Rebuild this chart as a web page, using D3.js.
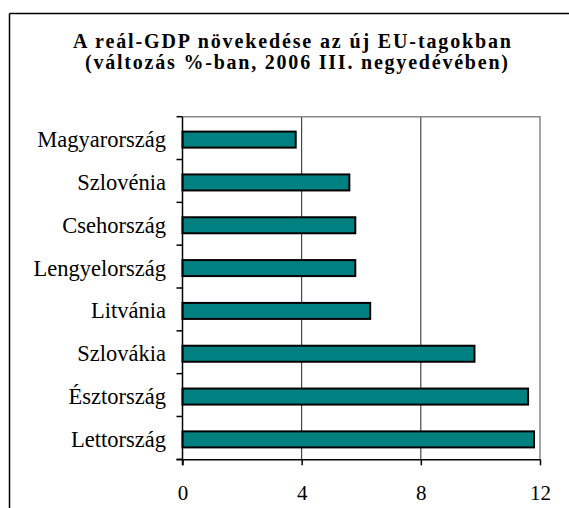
<!DOCTYPE html>
<html>
<head>
<meta charset="utf-8">
<script src="https://cdn.jsdelivr.net/npm/d3@7"></script>
<style>
  html, body { margin: 0; padding: 0; background: #fff; }
  svg { display: block; }
</style>
</head>
<body>
<svg id="chart" width="569" height="508"></svg>
<script>
const titleLines = ["A reál-GDP növekedése az új EU-tagokban", "(változás %-ban, 2006 III. negyedévében)"];
const categories = ["Magyarország", "Szlovénia", "Csehország", "Lengyelország", "Litvánia", "Szlovákia", "Észtország", "Lettország"];
const values = [3.8, 5.6, 5.8, 5.8, 6.3, 9.8, 11.6, 11.8];
const xTicks = [0, 4, 8, 12];

(function () {
const svg = d3.select("#chart");
const serif = "'Liberation Serif', 'Times New Roman', serif";

// outer frame (only left/top visible in picture)
svg.append("line").attr("x1", 9.5).attr("y1", 13.5).attr("x2", 569).attr("y2", 13.5)
  .attr("stroke", "#000").attr("stroke-width", 1.5);
svg.append("line").attr("x1", 9.5).attr("y1", 13.5).attr("x2", 9.5).attr("y2", 508)
  .attr("stroke", "#000").attr("stroke-width", 1.5);

// title
const tw = [438, 423];
const tx = [292, 296.5];
const ty = [48, 69];
titleLines.forEach((t, i) => {
  svg.append("text")
    .attr("x", tx[i] - tw[i] / 2).attr("y", ty[i])
    .attr("textLength", tw[i]).attr("lengthAdjust", "spacing")
    .attr("font-family", serif).attr("font-weight", "bold").attr("font-size", 20)
    .attr("fill", "#000").text(t);
});

const pLeft = 182.5, pRight = 540, pTop = 116.7, pBottom = 459.3;
const x = d3.scaleLinear().domain([0, 12]).range([pLeft, pRight]);
const y = d3.scaleBand().domain(categories).range([pTop, pBottom]).paddingInner(0.626).paddingOuter(0.313);

// gridlines
svg.append("g").selectAll("line").data(xTicks.filter(d => d > 0 && d < 12)).join("line")
  .attr("x1", d => x(d)).attr("x2", d => x(d)).attr("y1", pTop).attr("y2", pBottom)
  .attr("stroke", "#222").attr("stroke-width", 1);

// plot border top/right (gray)
svg.append("path")
  .attr("d", `M${pLeft},${pTop}H${pRight}V${pBottom}`)
  .attr("fill", "none").attr("stroke", "#888").attr("stroke-width", 1.5);

// bars
svg.append("g").selectAll("rect").data(categories).join("rect")
  .attr("x", x(0))
  .attr("y", d => y(d) + 1.5)
  .attr("width", (d, i) => x(values[i]) - x(0))
  .attr("height", y.bandwidth())
  .attr("fill", "#008080").attr("stroke", "#000").attr("stroke-width", 2);

// x axis
const xAxis = svg.append("g").attr("transform", `translate(0,${pBottom})`)
  .call(d3.axisBottom(x).tickValues(xTicks).tickSize(6).tickPadding(20).tickFormat(d3.format("d")));
xAxis.select(".domain").attr("d", `M${pLeft - 6},0.5H${pRight}`).attr("stroke", "#000").attr("stroke-width", 1.5);
xAxis.selectAll(".tick line").attr("stroke", "#000").attr("stroke-width", 1.5);
xAxis.selectAll(".tick text").attr("font-family", serif).attr("font-size", 21).attr("fill", "#000").attr("dy", "0.71em");

// y axis
const bounds = categories.map(c => y(c) - y.step() * y.paddingInner() / 2).concat([pBottom]);
const yg = svg.append("g");
yg.append("line").attr("x1", pLeft).attr("x2", pLeft).attr("y1", pTop).attr("y2", pBottom + 6)
  .attr("stroke", "#000").attr("stroke-width", 1.5);
yg.selectAll("line.tk").data(bounds).join("line").attr("class", "tk")
  .attr("x1", pLeft - 6).attr("x2", pLeft).attr("y1", d => d).attr("y2", d => d)
  .attr("stroke", "#000").attr("stroke-width", 1.5);
yg.selectAll("text").data(categories).join("text")
  .attr("x", 166).attr("y", d => y(d) + y.bandwidth() / 2 + 1.5)
  .attr("dy", "0.33em").attr("text-anchor", "end")
  .attr("font-family", serif).attr("font-size", 22.5).attr("fill", "#000")
  .text(d => d);
})();
</script>
</body>
</html>
